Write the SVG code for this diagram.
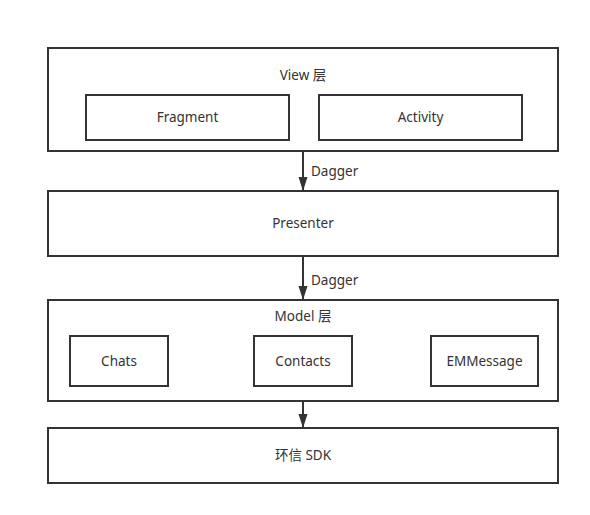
<svg xmlns="http://www.w3.org/2000/svg" width="590" height="515" viewBox="0 0 590 515">
  <defs>
    <style>
      .box { fill: #ffffff; stroke: #333333; stroke-width: 2; }
      .lbl { font-family: "Noto Sans", "Noto Sans CJK SC", sans-serif; font-size: 13.5px; fill: #333333; text-anchor: middle; dominant-baseline: central; }
      .elbl { font-family: "Noto Sans", "Noto Sans CJK SC", sans-serif; font-size: 13.5px; fill: #333333; text-anchor: start; dominant-baseline: central; }
      .conn { stroke: #333333; stroke-width: 2; fill: none; }
    </style>
    <marker id="arrow" viewBox="0 0 14 10" refX="13" refY="5" markerWidth="14" markerHeight="10" markerUnits="userSpaceOnUse" orient="auto">
      <path d="M0,0.5 L14,5 L0,9.5 Z" fill="#333333"/>
    </marker>
  </defs>
  <rect width="590" height="515" fill="#ffffff"/>

  <g id="view-layer">
    <rect class="box" x="48" y="48" width="510" height="103"/>
    <text class="lbl" x="303" y="74.5">View 层</text>
  </g>
  <g id="fragment">
    <rect class="box" x="86" y="95" width="203" height="45"/>
    <text class="lbl" x="187.5" y="117">Fragment</text>
  </g>
  <g id="activity">
    <rect class="box" x="319" y="95" width="203" height="45"/>
    <text class="lbl" x="420.5" y="117">Activity</text>
  </g>

  <g id="presenter">
    <rect class="box" x="48" y="191" width="510" height="65"/>
    <text class="lbl" x="303" y="222.5">Presenter</text>
  </g>

  <g id="model-layer">
    <rect class="box" x="48" y="300" width="510" height="101"/>
    <text class="lbl" x="303" y="316">Model 层</text>
  </g>
  <g id="chats">
    <rect class="box" x="70" y="336" width="98" height="50"/>
    <text class="lbl" x="119" y="360.5">Chats</text>
  </g>
  <g id="contacts">
    <rect class="box" x="254" y="336" width="98" height="50"/>
    <text class="lbl" x="303" y="360.5">Contacts</text>
  </g>
  <g id="emmessage">
    <rect class="box" x="431" y="336" width="107" height="50"/>
    <text class="lbl" x="484.5" y="360.5">EMMessage</text>
  </g>

  <g id="sdk">
    <rect class="box" x="48" y="428" width="510" height="55"/>
    <text class="lbl" x="303" y="455">环信 SDK</text>
  </g>

  <g id="connectors">
    <line class="conn" x1="303" y1="152" x2="303" y2="190" marker-end="url(#arrow)"/>
    <text class="elbl" x="311" y="171">Dagger</text>
    <line class="conn" x1="303" y1="257" x2="303" y2="299" marker-end="url(#arrow)"/>
    <text class="elbl" x="311" y="280">Dagger</text>
    <line class="conn" x1="303" y1="402" x2="303" y2="427" marker-end="url(#arrow)"/>
  </g>
</svg>
